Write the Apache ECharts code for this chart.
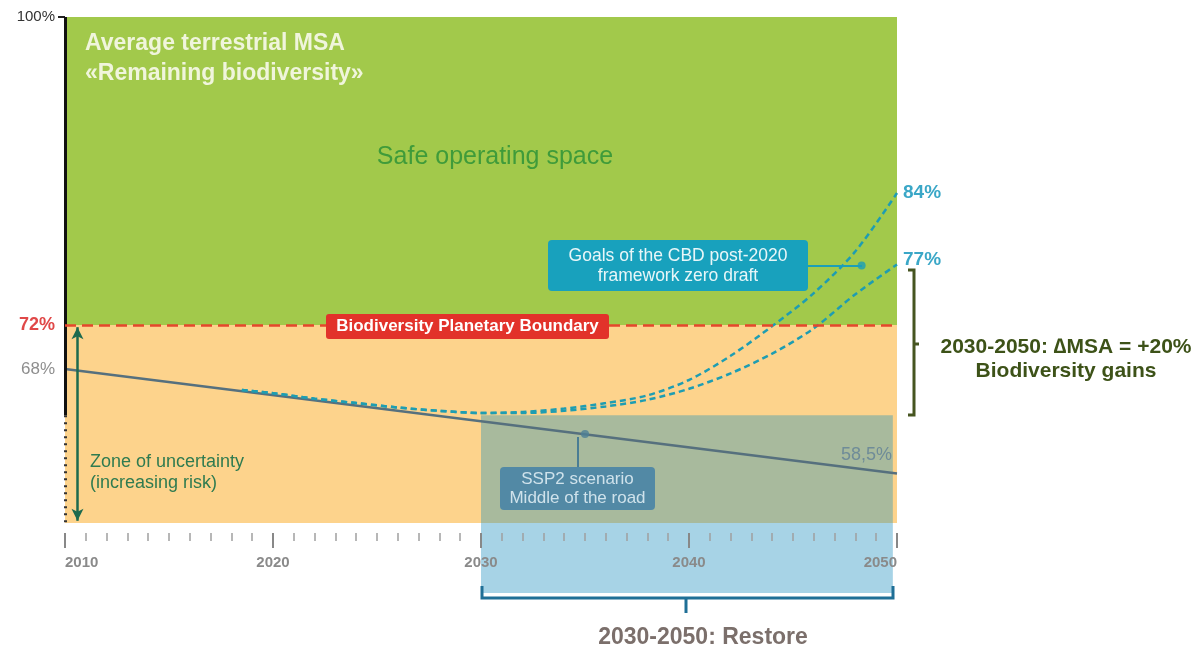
<!DOCTYPE html>
<html>
<head>
<meta charset="utf-8">
<title>Average terrestrial MSA</title>
<script src="https://cdn.jsdelivr.net/npm/echarts@6/dist/echarts.min.js"></script>
<style>
  html, body { margin: 0; padding: 0; background: #fff; }
  #chart { width: 1199px; height: 651px; }
</style>
</head>
<body>
<div id="chart"></div>
<script>
// values
const ssp2Years = [2010, 2050];
const ssp2Values = [68, 58.5];
const goalYears = [2018.5, 2020, 2022, 2024, 2026, 2028, 2030, 2032, 2034, 2036, 2038, 2040, 2042, 2044, 2046, 2048, 2050];
const goalHigh = [66.1, 65.8, 65.3, 64.9, 64.5, 64.2, 64.0, 64.1, 64.4, 64.9, 65.6, 67.0, 69.2, 71.9, 74.9, 78.7, 84.0];
const goalLow = [66.1, 65.8, 65.3, 64.9, 64.5, 64.2, 64.0, 64.0, 64.2, 64.6, 65.2, 66.2, 67.6, 69.4, 71.7, 74.8, 77.5];
const boundary = 72;
const yLabels = [68, 72, 100];
const restoreYears = [2030, 2049.8];
const restoreTop = 63.8;
const ssp2Marker = [2035, 62.1];
const goalMarker = [2048.3, 77.4];

const FONT = '"Liberation Sans", Arial, sans-serif';
const yMin = 54, yMax = 100;

const chart = echarts.init(document.getElementById('chart'));

const lowLine = goalYears.map((y, i) => [y, goalLow[i]]);
const highLine = goalYears.map((y, i) => [y, goalHigh[i]]);
const bandDiff = goalYears.map((y, i) => [y, +(goalHigh[i] - goalLow[i]).toFixed(2)]);

chart.setOption({
  animation: false,
  grid: { left: 65, top: 17, width: 832, height: 506 },
  xAxis: {
    type: 'value', min: 2010, max: 2050, interval: 10, offset: 10, z: 5,
    axisLine: { show: false },
    axisTick: { show: true, length: 15, lineStyle: { color: '#888', width: 2 } },
    minorTick: { show: true, splitNumber: 10, length: 8, lineStyle: { color: '#a0a0a0', width: 1.5 } },
    splitLine: { show: false },
    axisLabel: {
      margin: 22, color: '#8a8a8a', fontSize: 15, fontWeight: 'bold', fontFamily: FONT,
      formatter: v => String(v),
      alignMinLabel: 'left', alignMaxLabel: 'right'
    }
  },
  yAxis: {
    type: 'value', min: yMin, max: yMax,
    axisLine: { show: false },
    splitLine: { show: false },
    axisTick: { show: true, customValues: [100], length: 7, lineStyle: { color: '#222', width: 2 } },
    axisLabel: {
      customValues: yLabels, margin: 10,
      formatter: v => v === 72 ? '{r|72%}' : v === 100 ? '{k|100%}' : '{g|' + v + '%}',
      rich: {
        r: { color: '#e04848', fontSize: 18, fontWeight: 'bold', fontFamily: FONT },
        g: { color: '#8e8e8e', fontSize: 17, fontFamily: FONT },
        k: { color: '#333', fontSize: 15, fontFamily: FONT }
      }
    }
  },
  series: [
    {
      // background zones
      type: 'line', data: [], z: 0, silent: true, clip: false,
      markArea: {
        silent: true,
        data: [
          [{ yAxis: boundary, itemStyle: { color: '#a2c94b' } }, { yAxis: yMax }],
          [{ yAxis: yMin, itemStyle: { color: '#fdd38c' } }, { yAxis: boundary }]
        ]
      }
    },
    {
      // restore period 2030-2050
      type: 'custom', z: 1, silent: true, clip: false, data: [[0]],
      renderItem: (params, api) => {
        const tl = api.coord([restoreYears[0], restoreTop]);
        const br = api.coord([restoreYears[1], yMin]);
        const w = br[0] - tl[0];
        return {
          type: 'group',
          children: [
            { type: 'rect', shape: { x: tl[0], y: tl[1], width: w, height: br[1] - tl[1] }, style: { fill: '#a8ba9d' } },
            { type: 'rect', shape: { x: tl[0], y: br[1], width: w, height: 70 }, style: { fill: '#a7d3e6' } }
          ]
        };
      }
    },
    {
      type: 'line', data: lowLine, stack: 'band', smooth: 0.3, symbol: 'none', z: 2, silent: true,
      lineStyle: { opacity: 0 }
    },
    {
      type: 'line', data: bandDiff, stack: 'band', smooth: 0.3, symbol: 'none', z: 2, silent: true,
      lineStyle: { opacity: 0 },
      areaStyle: { color: 'rgba(40,140,130,0.32)', origin: 'auto' }
    },
    {
      name: 'SSP2', type: 'line', data: ssp2Years.map((y, i) => [y, ssp2Values[i]]), z: 3,
      symbol: 'none', lineStyle: { color: '#56707e', width: 2.5 }
    },
    {
      name: 'Goals high', type: 'line', data: highLine, smooth: 0.3, symbol: 'none', z: 4,
      lineStyle: { color: '#1e9db2', width: 2.5, type: [6, 4] },
      endLabel: { show: true, formatter: '84%', color: '#3aa7c7', fontSize: 19, fontWeight: 'bold', fontFamily: FONT, distance: 6, offset: [0, 0] }
    },
    {
      name: 'Goals low', type: 'line', data: lowLine, smooth: 0.3, symbol: 'none', z: 4,
      lineStyle: { color: '#1e9db2', width: 2.5, type: [6, 4] },
      endLabel: { show: true, formatter: '77%', color: '#3aa7c7', fontSize: 19, fontWeight: 'bold', fontFamily: FONT, distance: 6, offset: [0, -5] }
    },
    {
      // y axis line, uncertainty arrow and planetary boundary
      type: 'line', data: [], z: 6, silent: true, clip: false,
      markLine: {
        silent: true, animation: false,
        label: { show: false },
        data: [
          [{ coord: [2010, 100], symbol: 'none', lineStyle: { color: '#111', width: 3, type: 'solid' } },
           { coord: [2010, restoreTop], symbol: 'none' }],
          [{ coord: [2010, restoreTop], symbol: 'none', lineStyle: { color: '#333', width: 3, type: [2, 5] } },
           { coord: [2010, yMin], symbol: 'none' }],
          [{ coord: [2010.6, boundary - 0.2], symbol: 'arrow', symbolSize: [9, 12], lineStyle: { color: '#1d6a4e', width: 2.5, type: 'solid' } },
           { coord: [2010.6, yMin + 0.2], symbol: 'arrow', symbolSize: [9, 12] }],
          [{ coord: [2010, boundary], symbol: 'none', lineStyle: { color: '#e5472c', width: 2.5, type: [11, 6] } },
           { coord: [2050, boundary], symbol: 'none' }]
        ]
      }
    },
    {
      type: 'scatter', z: 7, silent: true, symbolSize: 8,
      data: [
        { value: ssp2Marker, itemStyle: { color: '#4d7f96' } },
        { value: goalMarker, itemStyle: { color: '#1b9fb8' } }
      ]
    }
  ],
  graphic: [
    { type: 'text', x: 85, y: 44, z: 100, style: { text: 'Average terrestrial MSA', font: 'bold 23px ' + FONT, fill: '#f0f5dc', verticalAlign: 'middle' } },
    { type: 'text', x: 85, y: 74, z: 100, style: { text: '«Remaining biodiversity»', font: 'bold 23px ' + FONT, fill: '#f0f5dc', verticalAlign: 'middle' } },
    { type: 'text', x: 495, y: 157, z: 100, style: { text: 'Safe operating space', font: '25px ' + FONT, fill: '#3f9b3a', align: 'center', verticalAlign: 'middle' } },

    { type: 'rect', z: 100, shape: { x: 326, y: 314, width: 283, height: 25, r: 3 }, style: { fill: '#e2322a' } },
    { type: 'text', x: 467.5, y: 326.5, z: 101, style: { text: 'Biodiversity Planetary Boundary', font: 'bold 17px ' + FONT, fill: '#ffffff', align: 'center', verticalAlign: 'middle' } },

    { type: 'text', x: 90, y: 462, z: 100, style: { text: 'Zone of uncertainty', font: '18px ' + FONT, fill: '#2f7b50', verticalAlign: 'middle' } },
    { type: 'text', x: 90, y: 483, z: 100, style: { text: '(increasing risk)', font: '18px ' + FONT, fill: '#2f7b50', verticalAlign: 'middle' } },

    { type: 'line', z: 99, shape: { x1: 808, y1: 266, x2: 862, y2: 266 }, style: { stroke: '#1b9fb8', lineWidth: 2 } },
    { type: 'rect', z: 100, shape: { x: 548, y: 240, width: 260, height: 51, r: 4 }, style: { fill: '#18a1bd' } },
    { type: 'text', x: 678, y: 256, z: 101, style: { text: 'Goals of the CBD post-2020', font: '17.5px ' + FONT, fill: '#e8f6f8', align: 'center', verticalAlign: 'middle' } },
    { type: 'text', x: 678, y: 276, z: 101, style: { text: 'framework zero draft', font: '17.5px ' + FONT, fill: '#e8f6f8', align: 'center', verticalAlign: 'middle' } },

    { type: 'line', z: 99, shape: { x1: 578, y1: 467, x2: 578, y2: 437 }, style: { stroke: '#4a7d94', lineWidth: 2 } },
    { type: 'rect', z: 100, shape: { x: 500, y: 467, width: 155, height: 43, r: 4 }, style: { fill: '#5289a5' } },
    { type: 'text', x: 577.5, y: 479, z: 101, style: { text: 'SSP2 scenario', font: '17px ' + FONT, fill: '#cfe2eb', align: 'center', verticalAlign: 'middle' } },
    { type: 'text', x: 577.5, y: 498, z: 101, style: { text: 'Middle of the road', font: '17px ' + FONT, fill: '#cfe2eb', align: 'center', verticalAlign: 'middle' } },

    { type: 'text', x: 892, y: 455, z: 100, style: { text: '58,5%', font: '18px ' + FONT, fill: '#6f8c98', align: 'right', verticalAlign: 'middle' } },

    { type: 'polyline', z: 100, shape: { points: [[908, 270], [914, 270], [914, 415], [908, 415]] }, style: { stroke: '#465520', lineWidth: 3, fill: null } },
    { type: 'line', z: 100, shape: { x1: 914, y1: 344, x2: 919, y2: 344 }, style: { stroke: '#465520', lineWidth: 3 } },
    { type: 'text', x: 1066, y: 347, z: 100, style: { text: '2030-2050: \u2206MSA = +20%', font: 'bold 21px ' + FONT, fill: '#3d5218', align: 'center', verticalAlign: 'middle' } },
    { type: 'text', x: 1066, y: 371, z: 100, style: { text: 'Biodiversity gains', font: 'bold 21px ' + FONT, fill: '#3d5218', align: 'center', verticalAlign: 'middle' } },

    { type: 'polyline', z: 100, shape: { points: [[482, 586], [482, 598], [893, 598], [893, 586]] }, style: { stroke: '#1f6f96', lineWidth: 3, fill: null } },
    { type: 'line', z: 100, shape: { x1: 686, y1: 598, x2: 686, y2: 613 }, style: { stroke: '#1f6f96', lineWidth: 3 } },
    { type: 'text', x: 703, y: 638, z: 100, style: { text: '2030-2050: Restore', font: 'bold 23px ' + FONT, fill: '#7b6f6b', align: 'center', verticalAlign: 'middle' } }
  ]
});
</script>
</body>
</html>
